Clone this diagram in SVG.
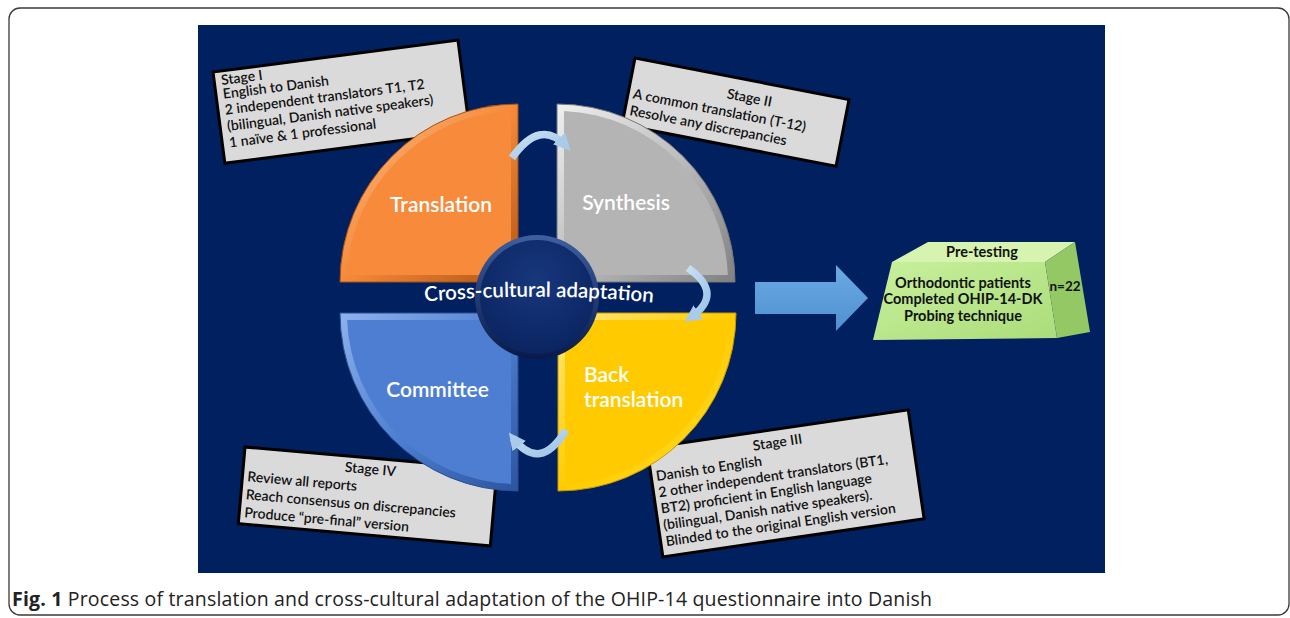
<svg xmlns="http://www.w3.org/2000/svg" width="1290" height="618" viewBox="0 0 1290 618">
  <defs>
    <style>
      .frame { fill: #ffffff; stroke: #3a3a3a; stroke-width: 1.3; }
      .stage-box { fill: #dadada; stroke: #000000; stroke-width: 3; }
      .stage-text { font-family: Lato, "Liberation Sans", sans-serif; font-size: 14px; font-weight: 600; fill: #111111; }
      .quad-label { font-family: Lato, "Liberation Sans", sans-serif; font-size: 21px; font-weight: 600; fill: #ffffff; }
      .hub-text { font-family: Lato, "Liberation Sans", sans-serif; font-size: 20.5px; font-weight: 600; fill: #ffffff; }
      .pt-text { font-family: Lato, "Liberation Sans", sans-serif; font-size: 14.5px; font-weight: 700; fill: #111111; text-anchor: middle; }
      .cycle { fill: none; stroke: url(#cycleGrad); stroke-width: 7.5; }
      .caption { font-family: "Open Sans", "Liberation Sans", sans-serif; font-size: 19.5px; fill: #222222; }
    </style>
    <linearGradient id="orangeRim" x1="0" y1="0" x2="1" y2="1">
      <stop offset="0" stop-color="#ffc08e"/>
      <stop offset="0.5" stop-color="#f58a3a"/>
      <stop offset="1" stop-color="#b25512"/>
    </linearGradient>
    <linearGradient id="grayRim" x1="0" y1="0" x2="1" y2="1">
      <stop offset="0" stop-color="#f0f0f0"/>
      <stop offset="0.5" stop-color="#bcbcbc"/>
      <stop offset="1" stop-color="#808080"/>
    </linearGradient>
    <linearGradient id="blueRim" x1="0" y1="0" x2="1" y2="1">
      <stop offset="0" stop-color="#8eb2ec"/>
      <stop offset="0.5" stop-color="#4f80d2"/>
      <stop offset="1" stop-color="#2c559f"/>
    </linearGradient>
    <linearGradient id="yellowRim" x1="0" y1="0" x2="1" y2="1">
      <stop offset="0" stop-color="#ffe680"/>
      <stop offset="0.5" stop-color="#ffcc00"/>
      <stop offset="1" stop-color="#ffdd33"/>
    </linearGradient>
    <radialGradient id="hubFill" cx="0.5" cy="0.35" r="0.7">
      <stop offset="0" stop-color="#17377c"/>
      <stop offset="1" stop-color="#0a235f"/>
    </radialGradient>
    <linearGradient id="hubRim" x1="0" y1="0" x2="0" y2="1">
      <stop offset="0" stop-color="#3f5f9f"/>
      <stop offset="1" stop-color="#081a4a"/>
    </linearGradient>
    <linearGradient id="cycleGrad" x1="0" y1="0" x2="1" y2="1">
      <stop offset="0" stop-color="#c9e0f4"/>
      <stop offset="1" stop-color="#9cc3e6"/>
    </linearGradient>
    <linearGradient id="bigArrow" x1="0" y1="0" x2="0" y2="1">
      <stop offset="0" stop-color="#6aaae4"/>
      <stop offset="1" stop-color="#4f90d0"/>
    </linearGradient>
    <linearGradient id="ptFront" x1="0" y1="0" x2="1" y2="1">
      <stop offset="0" stop-color="#c8f09c"/>
      <stop offset="1" stop-color="#abdc7a"/>
    </linearGradient>
    <marker id="cycleHead" viewBox="0 0 10 10" refX="6" refY="5" markerWidth="17" markerHeight="17" markerUnits="userSpaceOnUse" orient="auto">
      <path d="M0,0 L10,5 L0,10 Z" fill="#a9cbe9"/>
    </marker>
    <path id="adaptArc" d="M 410 303 Q 540 290 668 304" fill="none"/>
  </defs>

  <!-- figure frame -->
  <rect class="frame" x="9" y="8" width="1280" height="607" rx="11"/>

  <!-- dark panel -->
  <rect x="198" y="25" width="907" height="548" fill="#002060"/>

  <!-- stage notes (drawn beneath the quadrants) -->
  <g id="stage1">
    <g transform="translate(213,72) rotate(-7.4)">
      <rect class="stage-box" x="0" y="0" width="247" height="92"/>
      <text class="stage-text" x="7">
        <tspan x="7" y="14">Stage I</tspan>
        <tspan x="7" y="28">English to Danish</tspan>
        <tspan x="7" y="44">2 independent translators T1, T2</tspan>
        <tspan x="7" y="60.5">(bilingual, Danish native speakers)</tspan>
        <tspan x="7" y="77">1 naïve &amp; 1 professional</tspan>
      </text>
    </g>
  </g>

  <g id="stage2">
    <g transform="translate(635,58) rotate(11)">
      <rect class="stage-box" x="0" y="0" width="218" height="68"/>
      <text class="stage-text" x="120" y="22" text-anchor="middle">Stage II</text>
      <text class="stage-text" x="5" y="40">A common translation (T-12)</text>
      <text class="stage-text" x="5" y="57">Resolve any discrepancies</text>
    </g>
  </g>

  <g id="stage3">
    <g transform="translate(647,448) rotate(-8.3)">
      <rect class="stage-box" x="0" y="0" width="264" height="110"/>
      <text class="stage-text" x="130" y="18" text-anchor="middle">Stage III</text>
      <text class="stage-text">
        <tspan x="5" y="34">Danish to English</tspan>
        <tspan x="5" y="50.5">2 other independent translators (BT1,</tspan>
        <tspan x="5" y="67">BT2) proficient in English language</tspan>
        <tspan x="5" y="83.5">(bilingual, Danish native speakers).</tspan>
        <tspan x="5" y="100">Blinded to the original English version</tspan>
      </text>
    </g>
  </g>

  <g id="stage4">
    <g transform="translate(245,447) rotate(5)">
      <rect class="stage-box" x="0" y="0" width="253" height="77"/>
      <text class="stage-text" x="127" y="16" text-anchor="middle">Stage IV</text>
      <text class="stage-text">
        <tspan x="5" y="34">Review all reports</tspan>
        <tspan x="5" y="52">Reach consensus on discrepancies</tspan>
        <tspan x="5" y="70">Produce “pre-final” version</tspan>
      </text>
    </g>
  </g>

  <!-- four bevelled quadrants -->
  <g id="translation">
    <path d="M 518 282 L 340 282 A 178 178 0 0 1 518 104 Z" fill="url(#orangeRim)" stroke="#a9500f" stroke-width="1"/>
    <path d="M 511 275 L 347.1 275 A 171 171 0 0 1 511 111.1 Z" fill="#f78a3b"/>
    <text class="quad-label" x="441" y="212" text-anchor="middle">Translation</text>
  </g>

  <g id="synthesis">
    <path d="M 557 282 L 735 282 A 178 178 0 0 0 557 104 Z" fill="url(#grayRim)" stroke="#777777" stroke-width="1"/>
    <path d="M 564 275 L 727.9 275 A 171 171 0 0 0 564 111.1 Z" fill="#b4b4b4"/>
    <text class="quad-label" x="626" y="210" text-anchor="middle">Synthesis</text>
  </g>

  <g id="committee">
    <path d="M 518 313 L 340 313 A 178 178 0 0 0 518 491 Z" fill="url(#blueRim)" stroke="#2a4f93" stroke-width="1"/>
    <path d="M 511 320 L 347.1 320 A 171 171 0 0 0 511 483.9 Z" fill="#4d7ed2"/>
    <text class="quad-label" x="437.5" y="397" text-anchor="middle">Committee</text>
  </g>

  <g id="back-translation">
    <path d="M 558 313 L 736 313 A 178 178 0 0 1 558 491 Z" fill="url(#yellowRim)" stroke="#c79800" stroke-width="1"/>
    <path d="M 565 320 L 728.9 320 A 171 171 0 0 1 565 483.9 Z" fill="#ffcb00"/>
    <text class="quad-label">
      <tspan x="584" y="382">Back</tspan>
      <tspan x="584" y="407">translation</tspan>
    </text>
  </g>

  <!-- central hub -->
  <g id="hub">
    <circle cx="537" cy="297" r="62" fill="url(#hubRim)"/>
    <circle cx="537" cy="297" r="57" fill="url(#hubFill)"/>
    <text class="hub-text"><textPath href="#adaptArc" startOffset="50%" text-anchor="middle">Cross-cultural adaptation</textPath></text>
  </g>

  <!-- connectors: cycle arrows and the arrow to pre-testing -->
  <g id="connectors">
    <path class="cycle" d="M 512 158 Q 540 118 566 146" marker-end="url(#cycleHead)"/>
    <path class="cycle" d="M 688 268 Q 725 294 690 318" marker-end="url(#cycleHead)"/>
    <path class="cycle" d="M 566 430 Q 540 473 513 438" marker-end="url(#cycleHead)"/>
    <polygon points="755,282 836,282 836,265 868,298 836,331 836,314 755,314" fill="url(#bigArrow)"/>
  </g>

  <!-- pre-testing block -->
  <g id="pre-testing">
    <polygon points="892,262 1045,262 1057,338 873,340" fill="url(#ptFront)"/>
    <polygon points="928,242 1075,242 1045,262 892,262" fill="#d6f3b0"/>
    <polygon points="1045,262 1075,242 1090,332 1057,338" fill="#93c865"/>
    <text class="pt-text" x="982" y="257">Pre-testing</text>
    <text class="pt-text" x="963" y="288">Orthodontic patients</text>
    <text class="pt-text" x="963" y="304">Completed OHIP-14-DK</text>
    <text class="pt-text" x="963" y="321">Probing technique</text>
    <text class="pt-text" x="1065" y="291" style="font-size:13.5px">n=22</text>
  </g>

  <!-- caption -->
  <text class="caption" x="12" y="606" textLength="920" lengthAdjust="spacing"><tspan font-weight="700">Fig. 1</tspan> Process of translation and cross-cultural adaptation of the OHIP-14 questionnaire into Danish</text>
</svg>
